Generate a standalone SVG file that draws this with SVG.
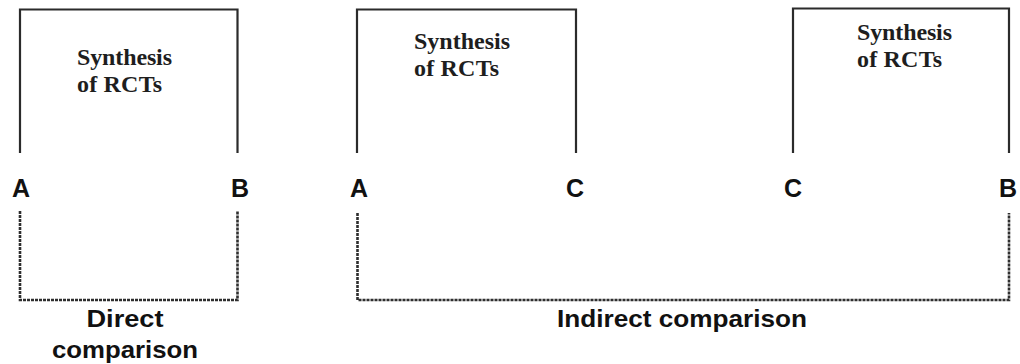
<svg xmlns="http://www.w3.org/2000/svg" width="1020" height="364" viewBox="0 0 1020 364">
<style>
.solid{fill:none;stroke:#2b2b2b;stroke-width:2.2}
.dash{fill:none;stroke:#2e2e2e;stroke-width:2.6;stroke-dasharray:3 1}
.syn{font-family:"Liberation Serif",serif;font-weight:bold;font-size:24px;fill:#1e1e1e}
.lbl{font-family:"Liberation Sans",Arial,sans-serif;font-weight:bold;font-size:25px;fill:#111}
.cmp{font-family:"Liberation Sans",Arial,sans-serif;font-weight:bold;font-size:24px;fill:#111;text-anchor:middle}
</style>
<rect width="1020" height="364" fill="#fff"/>
<g id="connectors">
  <path class="solid" d="M20,153 V9.5 H237.5 V153"/>
  <path class="solid" d="M357,153 V9.5 H576 V153"/>
  <path class="solid" d="M793,153 V8.5 H1009 V153"/>
  <path class="dash" d="M20,211 V300 H237.5 V211"/>
  <path class="dash" d="M357.5,213 V300 H1009 V213"/>
</g>
<g id="node-AB-synthesis">
  <text class="syn" x="77" y="65" textLength="95">Synthesis</text>
  <text class="syn" x="77" y="92" textLength="85">of RCTs</text>
</g>
<g id="node-AC-synthesis">
  <text class="syn" x="414" y="49" textLength="96">Synthesis</text>
  <text class="syn" x="414" y="76" textLength="85">of RCTs</text>
</g>
<g id="node-CB-synthesis">
  <text class="syn" x="857" y="40" textLength="95">Synthesis</text>
  <text class="syn" x="857" y="67" textLength="85">of RCTs</text>
</g>
<g id="node-A1"><text class="lbl" x="12" y="197">A</text></g>
<g id="node-B1"><text class="lbl" x="231" y="197">B</text></g>
<g id="node-A2"><text class="lbl" x="350" y="197">A</text></g>
<g id="node-C1"><text class="lbl" x="566" y="197">C</text></g>
<g id="node-C2"><text class="lbl" x="784" y="197">C</text></g>
<g id="node-B2"><text class="lbl" x="999" y="197">B</text></g>
<g id="node-direct">
  <text class="cmp" x="125" y="327" textLength="77" lengthAdjust="spacingAndGlyphs">Direct</text>
  <text class="cmp" x="125" y="358" textLength="146" lengthAdjust="spacingAndGlyphs">comparison</text>
</g>
<g id="node-indirect">
  <text class="cmp" x="682" y="327" textLength="250" lengthAdjust="spacingAndGlyphs">Indirect comparison</text>
</g>
</svg>
